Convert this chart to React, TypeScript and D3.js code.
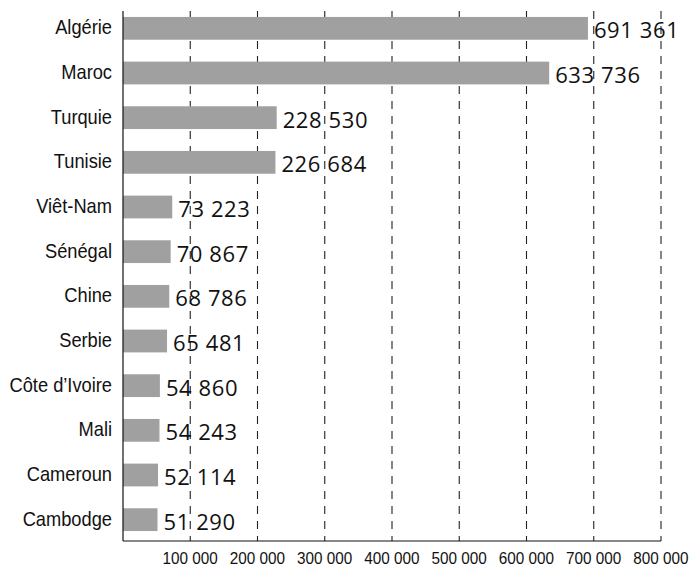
import * as d3 from "d3";
import React, { useEffect, useRef } from "react";

const countries = [
  "Algérie", "Maroc", "Turquie", "Tunisie", "Viêt-Nam", "Sénégal",
  "Chine", "Serbie", "Côte d’Ivoire", "Mali", "Cameroun", "Cambodge",
];
const counts = [
  691361, 633736, 228530, 226684, 73223, 70867,
  68786, 65481, 54860, 54243, 52114, 51290,
];
const xTicks = [100000, 200000, 300000, 400000, 500000, 600000, 700000, 800000];

const fmt = (v: number) => d3.format(",")(v).replace(/,/g, " ");

// narrow-ish look: Liberation Sans squeezed horizontally
const NARROW = "'Liberation Sans', Arial, sans-serif";

export default function App() {
  const svgRef = useRef<SVGSVGElement | null>(null);

  useEffect(() => {
    document.body.style.margin = "0";
    const svg = d3.select(svgRef.current);
    svg.selectAll("*").remove();

    const width = 690, height = 567;
    const margin = { top: 11, right: 29, bottom: 26, left: 123 };
    const w = width - margin.left - margin.right;
    const h = height - margin.top - margin.bottom;

    const x = d3.scaleLinear().domain([0, 800000]).range([0, w]);
    const y = d3.scaleBand<string>().domain(countries).range([-5, h + 1]).paddingInner(0.49).paddingOuter(0.245);

    const root = svg.append("g").attr("transform", `translate(${margin.left},${margin.top})`);

    // dashed gridlines
    root.append("g")
      .selectAll("line")
      .data(xTicks)
      .join("line")
      .attr("x1", d => x(d))
      .attr("x2", d => x(d))
      .attr("y1", 0)
      .attr("y2", h)
      .attr("stroke", "#222")
      .attr("stroke-width", 1.1)
      .attr("stroke-dasharray", "8,7");

    // bars
    const rows = countries.map((c, i) => ({ c, v: counts[i] }));
    root.append("g")
      .selectAll("rect")
      .data(rows)
      .join("rect")
      .attr("x", 0)
      .attr("y", d => y(d.c) ?? 0)
      .attr("width", d => x(d.v))
      .attr("height", y.bandwidth())
      .attr("fill", "#a0a0a0");

    // value labels
    root.append("g")
      .selectAll("text")
      .data(rows)
      .join("text")
      .attr("x", d => x(d.v) + 6)
      .attr("y", d => (y(d.c) ?? 0) + y.bandwidth() / 2)
      .attr("dy", "0.45em")
      .attr("font-family", "'Open Sans', 'DejaVu Sans', sans-serif")
      .attr("font-size", 22)
      .attr("letter-spacing", 0.6)
      .attr("fill", "#111")
      .text(d => fmt(d.v));

    // category labels
    root.append("g")
      .selectAll("text")
      .data(rows)
      .join("text")
      .attr("transform", d => `translate(-11,${(y(d.c) ?? 0) + y.bandwidth() / 2 - 1.5}) scale(0.87,1)`)
      .attr("dy", "0.36em")
      .attr("text-anchor", "end")
      .attr("font-family", NARROW)
      .attr("font-size", 21)
      .attr("fill", "#111")
      .text(d => d.c);

    // axes lines
    root.append("line")
      .attr("x1", 0).attr("x2", 0).attr("y1", 0).attr("y2", h)
      .attr("stroke", "#111").attr("stroke-width", 1.2);
    root.append("line")
      .attr("x1", 0).attr("x2", x(800000)).attr("y1", h).attr("y2", h)
      .attr("stroke", "#111").attr("stroke-width", 1.2);

    // tick labels
    root.append("g")
      .selectAll("text")
      .data(xTicks)
      .join("text")
      .attr("transform", d => `translate(${x(d)},${h + 23}) scale(0.9,1)`)
      .attr("text-anchor", "middle")
      .attr("font-family", NARROW)
      .attr("font-size", 17)
      .attr("fill", "#111")
      .text(d => fmt(d));
  }, []);

  return <svg ref={svgRef} width={690} height={567} style={{ display: "block", background: "#fff" }} />;
}
